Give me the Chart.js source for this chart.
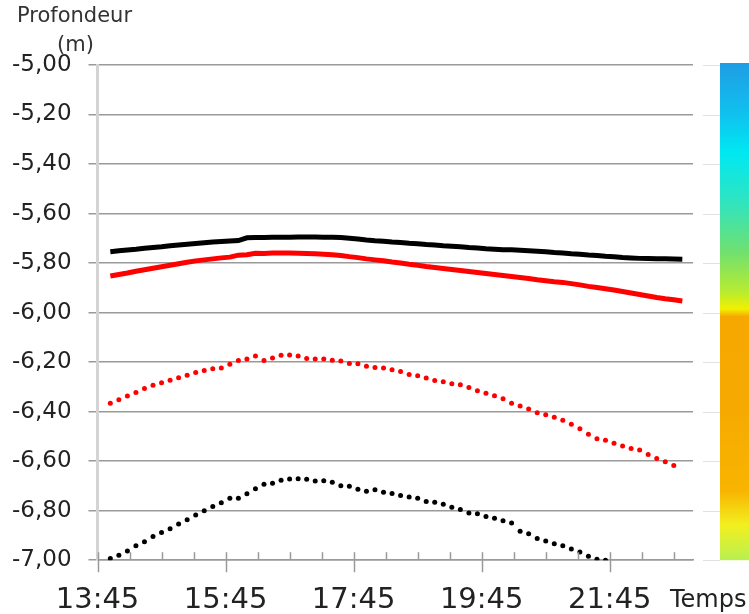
<!DOCTYPE html>
<html>
<head>
<meta charset="utf-8">
<script src="https://cdn.jsdelivr.net/npm/chart.js@4.4.1/dist/chart.umd.min.js"></script>
<style>
  html, body { margin: 0; padding: 0; background: #fff; }
  #wrap { position: relative; width: 749px; height: 614px; overflow: hidden; }
  .lbl { position: absolute; color: #333; white-space: nowrap; }
  #ytitle1 { left: 17px; top: 3px; font: 21px "DejaVu Sans", sans-serif; }
  #ytitle2 { left: 57px; top: 32px; font: 21px "DejaVu Sans", sans-serif; }
  #xtitle { left: 670px; top: 585px; font: 24px "DejaVu Sans", sans-serif; color: #222; }
</style>
</head>
<body>
<div id="wrap">
  <canvas id="depth" width="749" height="614"></canvas>
  <div class="lbl" id="ytitle1">Profondeur</div>
  <div class="lbl" id="ytitle2">(m)</div>
  <div class="lbl" id="xtitle">Temps</div>
</div>
<script>
const GRID = "#9a9a9a";
const FONT = "'DejaVu Sans', sans-serif";

// minutes after 13:45
const START_MIN = 13 * 60 + 45;
const X_MAX = 558;
const xLabelTicks = [0, 120, 240, 360, 480];

const times = [
  12, 20, 28, 36, 44, 52, 60, 68, 76, 84,
  92, 100, 108, 116, 124, 132, 140, 148, 156, 164,
  172, 180, 188, 196, 204, 212, 220, 228, 236, 244,
  252, 260, 268, 276, 284, 292, 300, 308, 316, 324,
  332, 340, 348, 356, 364, 372, 380, 388, 396, 404,
  412, 420, 428, 436, 444, 452, 460, 468, 476, 484,
  492, 500, 508, 516, 524, 532, 540, 548
];

const blackSolid = [
  -5.754, -5.750, -5.747, -5.744, -5.740, -5.737, -5.734, -5.730, -5.727, -5.724,
  -5.721, -5.718, -5.715, -5.713, -5.711, -5.709, -5.698, -5.697, -5.697, -5.696,
  -5.696, -5.696, -5.695, -5.695, -5.695, -5.696, -5.696, -5.697, -5.700, -5.703,
  -5.707, -5.710, -5.712, -5.715, -5.717, -5.720, -5.722, -5.725, -5.727, -5.730,
  -5.732, -5.734, -5.737, -5.739, -5.742, -5.744, -5.746, -5.746, -5.748, -5.750,
  -5.752, -5.754, -5.757, -5.759, -5.762, -5.764, -5.767, -5.769, -5.772, -5.774,
  -5.777, -5.779, -5.781, -5.782, -5.783, -5.783, -5.784, -5.785
];

const redSolid = [
  -5.852, -5.846, -5.840, -5.833, -5.827, -5.821, -5.815, -5.809, -5.803, -5.797,
  -5.791, -5.787, -5.783, -5.779, -5.776, -5.768, -5.766, -5.760, -5.761, -5.759,
  -5.759, -5.759, -5.760, -5.761, -5.762, -5.764, -5.766, -5.769, -5.774, -5.778,
  -5.783, -5.787, -5.791, -5.796, -5.800, -5.805, -5.809, -5.814, -5.818, -5.822,
  -5.826, -5.830, -5.834, -5.838, -5.842, -5.846, -5.850, -5.854, -5.858, -5.862,
  -5.867, -5.871, -5.875, -5.878, -5.883, -5.888, -5.894, -5.899, -5.904, -5.909,
  -5.915, -5.921, -5.927, -5.933, -5.939, -5.944, -5.948, -5.953
];

const redDotted = [
  -6.366, -6.352, -6.337, -6.323, -6.307, -6.293, -6.283, -6.273, -6.263, -6.253,
  -6.242, -6.234, -6.227, -6.224, -6.209, -6.193, -6.187, -6.175, -6.193, -6.183,
  -6.172, -6.171, -6.175, -6.185, -6.187, -6.187, -6.192, -6.195, -6.206, -6.207,
  -6.217, -6.222, -6.224, -6.231, -6.238, -6.250, -6.255, -6.264, -6.274, -6.279,
  -6.287, -6.291, -6.302, -6.316, -6.326, -6.336, -6.348, -6.366, -6.377, -6.389,
  -6.404, -6.413, -6.423, -6.435, -6.451, -6.469, -6.491, -6.509, -6.516, -6.528,
  -6.539, -6.549, -6.555, -6.573, -6.589, -6.602, -6.618, null
];

const blackDotted = [
  -6.993, -6.980, -6.963, -6.942, -6.925, -6.904, -6.888, -6.873, -6.854, -6.837,
  -6.817, -6.800, -6.783, -6.768, -6.750, -6.750, -6.732, -6.711, -6.693, -6.689,
  -6.677, -6.672, -6.671, -6.673, -6.680, -6.679, -6.685, -6.699, -6.701, -6.713,
  -6.722, -6.715, -6.726, -6.731, -6.739, -6.745, -6.750, -6.763, -6.766, -6.774,
  -6.786, -6.795, -6.809, -6.812, -6.824, -6.831, -6.841, -6.850, -6.883, -6.893,
  -6.912, -6.922, -6.934, -6.942, -6.955, -6.967, -6.984, -6.996, -7.000, null,
  null, null, null, null, null, null, null, null
];

// colour scale on the right (position along bar, colour)
const barStops = [
  [0.00, "#1f9de4"], [0.10, "#10c0ee"], [0.18, "#00e8f2"], [0.28, "#30e4c0"],
  [0.38, "#70e070"], [0.46, "#b8ec30"], [0.495, "#f2f000"], [0.51, "#f6a800"],
  [0.70, "#f6aa00"], [0.86, "#f8b400"], [0.93, "#f2f020"], [1.00, "#b8f050"]
];

function pts(vals){
  return times.map((t, i) => ({ x: t, y: vals[i] })).filter(p => p.y !== null);
}
function fmtTime(m){
  const t = START_MIN + m;
  return `${Math.floor(t / 60)}:${String(t % 60).padStart(2, "0")}`;
}

const decor = {
  id: "decor",
  afterDraw(chart){
    const { ctx, chartArea, scales } = chart;
    const xs = scales.x, ys = scales.y;
    ctx.save();
    // x tick marks: minor every 30 min, major every 2 h
    ctx.strokeStyle = GRID;
    ctx.lineWidth = 1.5;
    for (let m = 0; m <= 540; m += 30) {
      const px = Math.round(xs.getPixelForValue(m)) + 0.5;
      const major = xLabelTicks.includes(m);
      ctx.beginPath();
      ctx.moveTo(px, chartArea.bottom - 8);
      ctx.lineTo(px, chartArea.bottom + (major ? 12 : 0));
      ctx.stroke();
    }
    // colour bar
    const bx = 720, top = chartArea.top - 2, bot = chartArea.bottom;
    const g = ctx.createLinearGradient(0, top, 0, bot);
    barStops.forEach(([p, c]) => g.addColorStop(p, c));
    ctx.fillStyle = g;
    ctx.fillRect(bx, top, chart.width - bx, bot - top);
    // faint marks beside the bar
    ctx.strokeStyle = "#e2e2e2";
    ctx.lineWidth = 1;
    ys.ticks.forEach(t => {
      const py = Math.round(ys.getPixelForValue(t.value)) + 0.5;
      ctx.beginPath();
      ctx.moveTo(703, py);
      ctx.lineTo(bx, py);
      ctx.stroke();
    });
    ctx.restore();
  }
};

new Chart(document.getElementById("depth"), {
  type: "line",
  data: {
    datasets: [
      { data: pts(blackSolid), borderColor: "#000", borderWidth: 5, pointRadius: 0 },
      { data: pts(redSolid), borderColor: "#ff0000", borderWidth: 5, pointRadius: 0 },
      { data: pts(redDotted), showLine: false, pointRadius: 2.5, pointBorderWidth: 0, backgroundColor: "#ff0000" },
      { data: pts(blackDotted), showLine: false, pointRadius: 2.5, pointBorderWidth: 0, backgroundColor: "#000" }
    ]
  },
  options: {
    responsive: false,
    animation: false,
    layout: { padding: { top: 65, right: 56, left: -5, bottom: -27 } },
    plugins: { legend: { display: false }, tooltip: { enabled: false } },
    scales: {
      x: {
        type: "linear",
        min: 0,
        max: X_MAX,
        afterBuildTicks: (s) => { s.ticks = xLabelTicks.map(v => ({ value: v })); },
        ticks: { color: "#222", font: { family: FONT, size: 29 }, padding: 23, maxRotation: 0, callback: fmtTime },
        grid: { display: false, drawTicks: false, tickLength: 0 },
        border: { color: GRID, width: 1.5 }
      },
      y: {
        min: -7,
        max: -5,
        ticks: {
          stepSize: 0.2,
          color: "#222",
          padding: 17,
          font: { family: FONT, size: 23 },
          callback: (v) => v.toFixed(2).replace(".", ",")
        },
        grid: { color: GRID, lineWidth: 1.5, tickLength: 9, drawTicks: true },
        border: { color: "#d4d4d4", width: 3 }
      }
    }
  },
  plugins: [decor]
});
</script>
</body>
</html>
